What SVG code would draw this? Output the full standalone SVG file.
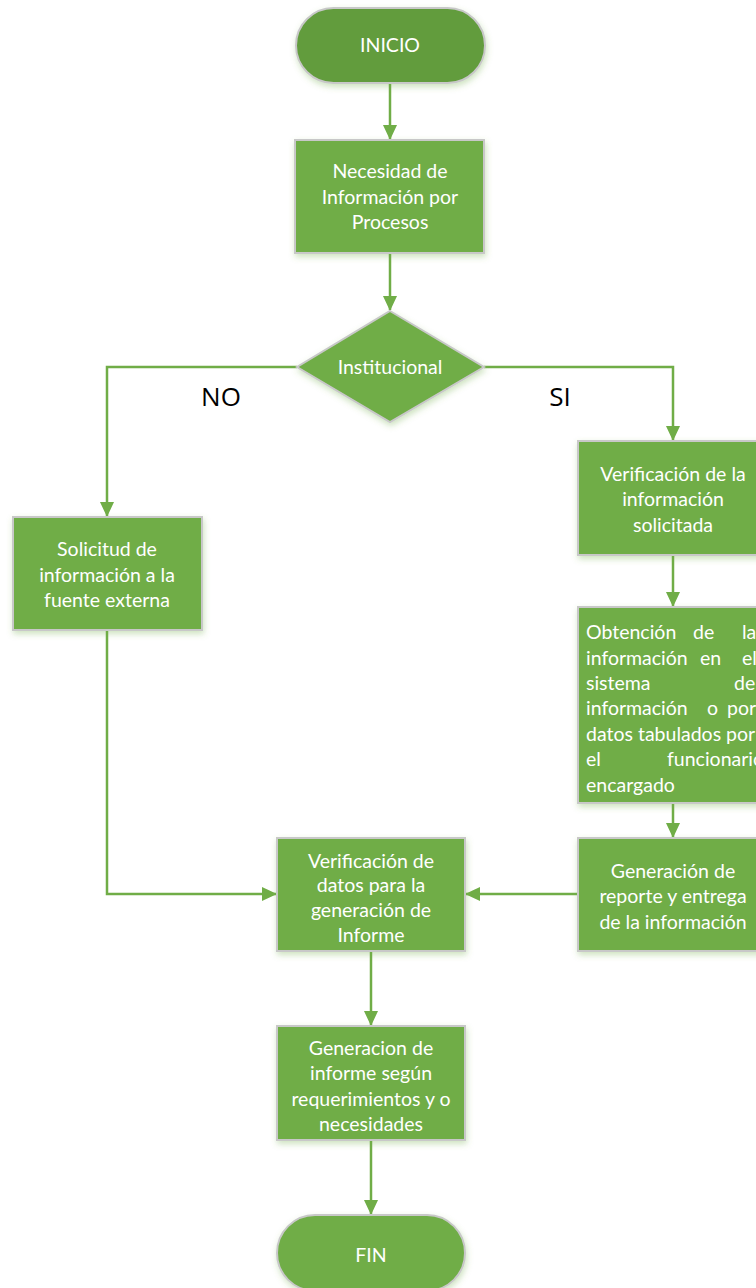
<svg xmlns="http://www.w3.org/2000/svg" width="756" height="1288" viewBox="0 0 756 1288">
<defs>
<style>
.box{fill:#70ad47;stroke:#c8c8c8;stroke-width:2;filter:url(#sh)}
.dark{fill:#629c3e}
.t{font-family:Lato,"Liberation Sans",sans-serif;font-size:19.5px;fill:#ffffff;text-anchor:middle}
.tl{font-family:Lato,"Liberation Sans",sans-serif;font-size:19.5px;fill:#ffffff}
.lbl{font-family:"Open Sans","Liberation Sans",sans-serif;font-size:26px;fill:#000000;text-anchor:middle}
.ln{fill:none;stroke:#70ad47;stroke-width:2.5}
</style>
<filter id="sh" x="-10%" y="-10%" width="125%" height="130%">
<feGaussianBlur in="SourceAlpha" stdDeviation="3"/>
<feOffset dx="1" dy="3" result="b"/>
<feFlood flood-color="#70ad47" flood-opacity="0.35"/>
<feComposite in2="b" operator="in"/>
<feMerge><feMergeNode/><feMergeNode in="SourceGraphic"/></feMerge>
</filter>
<marker id="ar" markerWidth="16" markerHeight="14" refX="14" refY="7" orient="auto" markerUnits="userSpaceOnUse">
<path d="M0,0 L15,7 L0,14 Z" fill="#70ad47"/>
</marker>
</defs>
<rect width="756" height="1288" fill="#ffffff"/>
<g id="connectors">
<path class="ln" d="M390,83 L390,139" marker-end="url(#ar)"/>
<path class="ln" d="M390,253 L390,310" marker-end="url(#ar)"/>
<path class="ln" d="M297,367 L107,367 L107,516" marker-end="url(#ar)"/>
<path class="ln" d="M484,367 L673,367 L673,440" marker-end="url(#ar)"/>
<path class="ln" d="M673,555 L673,606" marker-end="url(#ar)"/>
<path class="ln" d="M673,803 L673,837" marker-end="url(#ar)"/>
<path class="ln" d="M107,630 L107,894 L276,894" marker-end="url(#ar)"/>
<path class="ln" d="M578,894 L466,894" marker-end="url(#ar)"/>
<path class="ln" d="M371,951 L371,1025" marker-end="url(#ar)"/>
<path class="ln" d="M371,1140 L371,1214" marker-end="url(#ar)"/>
</g>
<g id="labels">
<text class="lbl" x="221" y="406">NO</text>
<text class="lbl" x="560" y="406">SI</text>
</g>
<g id="inicio">
<rect class="box dark" x="296" y="8" width="189" height="75" rx="37.5"/>
<text class="t" x="390" y="52">INICIO</text>
</g>
<g id="necesidad">
<rect class="box" x="295" y="140" width="189" height="113"/>
<text class="t" x="390" y="178">Necesidad de</text>
<text class="t" x="390" y="204">Información por</text>
<text class="t" x="390" y="229">Procesos</text>
</g>
<g id="institucional">
<polygon class="box" points="390,311 484,367 390,422 297,367"/>
<text class="t" x="390" y="374">Institucional</text>
</g>
<g id="solicitud">
<rect class="box" x="13" y="517" width="189" height="113"/>
<text class="t" x="107" y="556">Solicitud de</text>
<text class="t" x="107" y="582">información a la</text>
<text class="t" x="107" y="607">fuente externa</text>
</g>
<g id="verificacion-info">
<rect class="box" x="578" y="441" width="190" height="114"/>
<text class="t" x="673" y="481">Verificación de la</text>
<text class="t" x="673" y="506">información</text>
<text class="t" x="673" y="532">solicitada</text>
</g>
<g id="obtencion">
<rect class="box" x="578" y="607" width="190" height="196"/>
<text class="tl" y="639"><tspan x="586">Obtención</tspan><tspan x="693">de</tspan><tspan x="742">la</tspan></text>
<text class="tl" y="665"><tspan x="586">información</tspan><tspan x="700">en</tspan><tspan x="742">el</tspan></text>
<text class="tl" y="690"><tspan x="586">sistema</tspan><tspan x="734">de</tspan></text>
<text class="tl" y="715"><tspan x="586">información</tspan><tspan x="707">o</tspan><tspan x="727">por</tspan></text>
<text class="tl" y="741"><tspan x="586">datos tabulados por</tspan></text>
<text class="tl" y="766"><tspan x="586">el</tspan><tspan x="667">funcionario</tspan></text>
<text class="tl" y="792"><tspan x="586">encargado</tspan></text>
</g>
<g id="generacion-reporte">
<rect class="box" x="578" y="838" width="190" height="113"/>
<text class="t" x="673" y="878">Generación de</text>
<text class="t" x="673" y="903">reporte y entrega</text>
<text class="t" x="673" y="929">de la información</text>
</g>
<g id="verificacion-datos">
<rect class="box" x="277" y="838" width="188" height="113"/>
<text class="t" x="371" y="868">Verificación de</text>
<text class="t" x="371" y="892">datos para la</text>
<text class="t" x="371" y="917">generación de</text>
<text class="t" x="371" y="942">Informe</text>
</g>
<g id="generacion-informe">
<rect class="box" x="277" y="1026" width="188" height="114"/>
<text class="t" x="371" y="1055">Generacion de</text>
<text class="t" x="371" y="1080">informe según</text>
<text class="t" x="371" y="1106">requerimientos y o</text>
<text class="t" x="371" y="1131">necesidades</text>
</g>
<g id="fin">
<rect class="box" x="277" y="1215" width="188" height="76" rx="38"/>
<text class="t" x="371" y="1262">FIN</text>
</g>
</svg>
